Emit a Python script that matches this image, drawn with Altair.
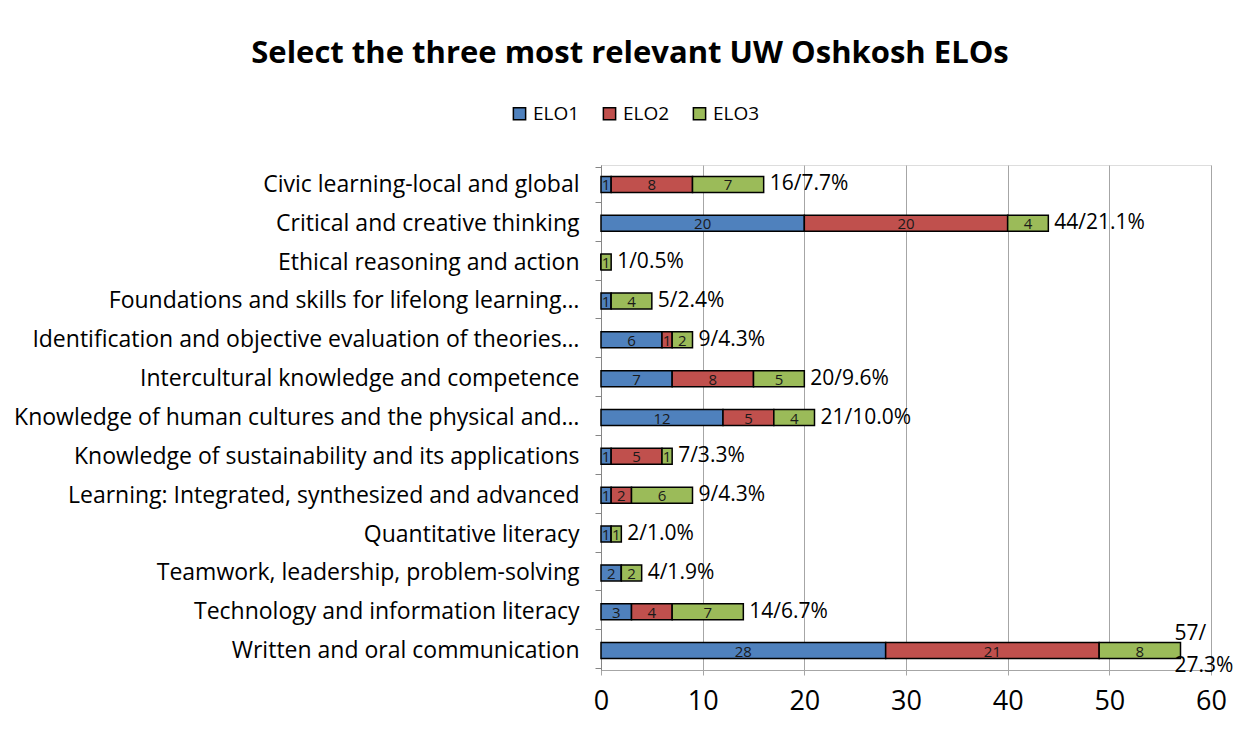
import altair as alt
import pandas as pd

categories = [
    "Civic learning-local and global",
    "Critical and creative thinking",
    "Ethical reasoning and action",
    "Foundations and skills for lifelong learning…",
    "Identification and objective evaluation of theories…",
    "Intercultural knowledge and competence",
    "Knowledge of human cultures and the physical and…",
    "Knowledge of sustainability and its applications",
    "Learning: Integrated, synthesized and advanced",
    "Quantitative literacy",
    "Teamwork, leadership, problem-solving",
    "Technology and information literacy",
    "Written and oral communication",
]
elo1 = [1, 20, 0, 1, 6, 7, 12, 1, 1, 1, 2, 3, 28]
elo2 = [8, 20, 0, 0, 1, 8, 5, 5, 2, 0, 0, 4, 21]
elo3 = [7, 4, 1, 4, 2, 5, 4, 1, 6, 1, 2, 7, 8]
totals = [16, 44, 1, 5, 9, 20, 21, 7, 9, 2, 4, 14, 57]
total_labels = ["16/7.7%", "44/21.1%", "1/0.5%", "5/2.4%", "9/4.3%", "20/9.6%",
                "21/10.0%", "7/3.3%", "9/4.3%", "2/1.0%", "4/1.9%", "14/6.7%",
                "57/\n27.3%"]
series = ["ELO1", "ELO2", "ELO3"]
colors = ["#4F81BD", "#C0504D", "#9BBB59"]
x_ticks = [0, 10, 20, 30, 40, 50, 60]

rows = []
for i, c in enumerate(categories):
    for k, (s, vals) in enumerate(zip(series, [elo1, elo2, elo3])):
        rows.append({"category": c, "series": s, "value": vals[i], "order": k})
long_df = pd.DataFrame(rows)
tot_df = pd.DataFrame({"category": categories, "total": totals, "label": total_labels})

FONT = "Open Sans"

y_enc = alt.Y("category:N", sort=categories, title=None,
              axis=alt.Axis(labelFontSize=23, labelColor="#000000", labelLimit=800,
                            labelPadding=16, tickSize=6, tickBand="extent",
                            domainColor="#868686", tickColor="#868686",
                            labelFont=FONT))

x_scale = alt.Scale(domain=[0, 60], nice=False)

stacked = alt.Chart(long_df).transform_stack(
    stack="value", as_=["x0", "x1"], groupby=["category"],
    sort=[alt.SortField("order", order="ascending")]
)

bars = stacked.mark_bar(size=16, stroke="#000000", strokeWidth=1.5).encode(
    x=alt.X("x0:Q", scale=x_scale, title=None,
            axis=alt.Axis(values=x_ticks, labelFontSize=27, labelColor="#000000",
                          labelPadding=13, tickSize=5, grid=True, gridColor="#A6A6A6",
                          domainColor="#A6A6A6", tickColor="#A6A6A6", labelFont=FONT,
                          labelFlush=False)),
    x2="x1:Q",
    y=y_enc,
    color=alt.Color("series:N", scale=alt.Scale(domain=series, range=colors),
                    legend=alt.Legend(title=None, orient="none", direction="horizontal",
                                      legendX=-91, legendY=-61, symbolType="square",
                                      symbolSize=150, symbolStrokeColor="#000000",
                                      symbolStrokeWidth=1.5, labelFontSize=19,
                                      labelFont=FONT, columnPadding=20, labelOffset=4,
                                      labelColor="#000000")),
    order=alt.Order("order:Q"),
)

inner = stacked.transform_filter("datum.value > 0").transform_calculate(
    mid="(datum.x0 + datum.x1) / 2"
).mark_text(fontSize=15, color="#1A1A1A", font=FONT, baseline="middle", dy=1).encode(
    x=alt.X("mid:Q", scale=x_scale),
    y=alt.Y("category:N", sort=categories),
    text="value:Q",
)

tot_single = alt.Chart(tot_df).transform_filter("indexof(datum.label, '\\n') < 0").mark_text(
    align="left", dx=6, fontSize=21, font=FONT, color="#000000", baseline="middle"
).encode(
    x=alt.X("total:Q", scale=x_scale),
    y=alt.Y("category:N", sort=categories),
    text="label:N",
)

tot_multi = alt.Chart(tot_df).transform_filter("indexof(datum.label, '\\n') >= 0").mark_text(
    align="left", dx=-6, dy=-17, fontSize=21, font=FONT, color="#000000", baseline="middle",
    lineBreak="\n", lineHeight=32
).encode(
    x=alt.X("total:Q", scale=x_scale),
    y=alt.Y("category:N", sort=categories),
    text="label:N",
)

chart = alt.layer(bars, inner, tot_single, tot_multi).properties(
    width=610, height=505,
    autosize=alt.AutoSizeParams(type="none"),
    padding={"left": 593, "top": 157, "right": 30, "bottom": 55},
    title=alt.TitleParams("Select the three most relevant UW Oshkosh ELOs",
                          fontSize=31, font=FONT, fontWeight="bold", color="#000000",
                          anchor="middle", dx=-276, offset=34),
).configure_view(stroke=None).configure(background="#FFFFFF")

chart.save("out.html", embed_options={"renderer": "svg", "actions": False})
